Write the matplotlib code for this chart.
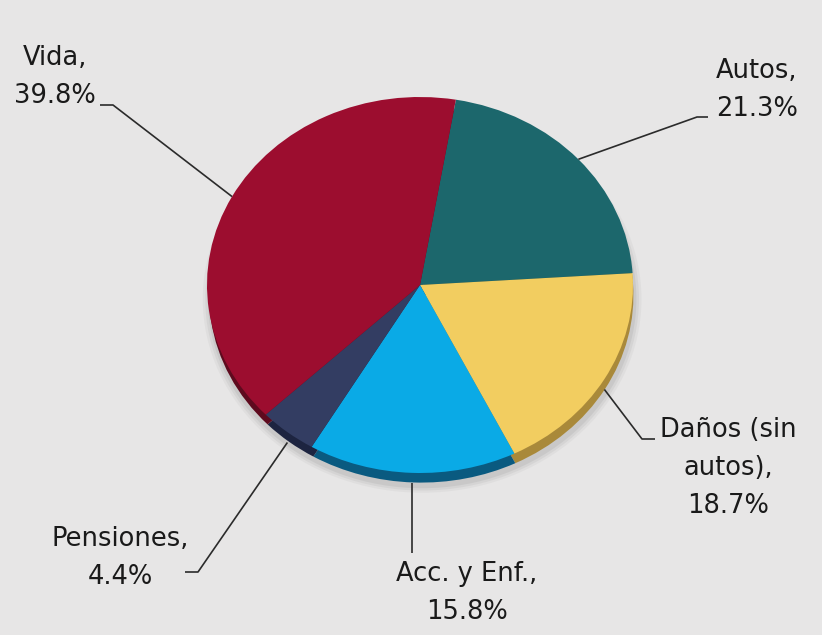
import numpy as np
import matplotlib.pyplot as plt

# slices in drawing order (clockwise from the Vida/Autos edge)
names = ["Autos", "Daños (sin\nautos)", "Acc. y Enf.", "Pensiones", "Vida"]
shares = [21.3, 18.7, 15.8, 4.4, 39.8]
colors = ["#1c676c", "#f2cd60", "#0aaae6", "#333d62", "#9c0d2f"]
rim_colors = ["#114448", "#a9893a", "#0a5a80", "#1d2440", "#5e0a1e"]

# pie centre and radii in pixels (the pie is a slightly squashed ellipse)
CX, CY, RX, RY = 420, 285, 213, 188
W, H = 822, 635
START = 80.3
RIM = (0.006, -0.055)


def px(x, y):
    return (x - CX) / RX, (CY - y) / RY


fig = plt.figure(figsize=(W / 100, H / 100), dpi=100)
fig.patch.set_facecolor("#e7e6e6")
ax = fig.add_axes([0, 0, 1, 1])
ax.set_facecolor("#e7e6e6")

# soft shadow and rim under the pie face
for k, a in enumerate([0.05, 0.07, 0.09]):
    r = 1.03 - 0.012 * k
    ax.pie([1], radius=r, center=(0.01, -0.075), colors=["#555555"],
           wedgeprops=dict(alpha=a, linewidth=0))
ax.pie(shares, radius=0.996, center=RIM, colors=rim_colors,
       startangle=START, counterclock=False, wedgeprops=dict(linewidth=0))
wedges, _ = ax.pie(shares, radius=1.0, center=(0, 0), colors=colors,
                   startangle=START, counterclock=False,
                   wedgeprops=dict(linewidth=0))

# label layout (pixels): text centre and leader line elbow points
text_pos = [(757, 90), (728, 468), (467, 593), (120, 558), (55, 77)]
elbows = [
    [(697, 117), (708, 117)],
    [(642, 439), (655, 439)],
    [(None, 553)],
    [(198, 572), (185, 572)],
    [(113, 105), (100, 105)],
]

for w, name, val, tp, el in zip(wedges, names, shares, text_pos, elbows):
    mid = np.deg2rad((w.theta1 + w.theta2) / 2)
    x0, y0 = np.cos(mid), np.sin(mid)
    if y0 < -0.5:
        y0 += RIM[1]
    pts = [(x0, y0)]
    for ex, ey in el:
        qx, qy = px(ex if ex is not None else 0, ey)
        pts.append((qx if ex is not None else x0, qy))
    ax.plot([p[0] for p in pts], [p[1] for p in pts], color="#2b2b2b",
            lw=1.2, solid_capstyle="butt")
    tx, ty = px(*tp)
    ax.text(tx, ty, f"{name},\n{val}%", ha="center", va="center",
            fontsize=18.5, color="#1a1a1a", linespacing=1.62,
            family="DejaVu Sans")

ax.set_aspect("auto")
ax.set_xlim(px(0, 0)[0], px(W, 0)[0])
ax.set_ylim(px(0, H)[1], px(0, 0)[1])
ax.axis("off")

fig.savefig("out.png", dpi=100, facecolor=fig.get_facecolor())
